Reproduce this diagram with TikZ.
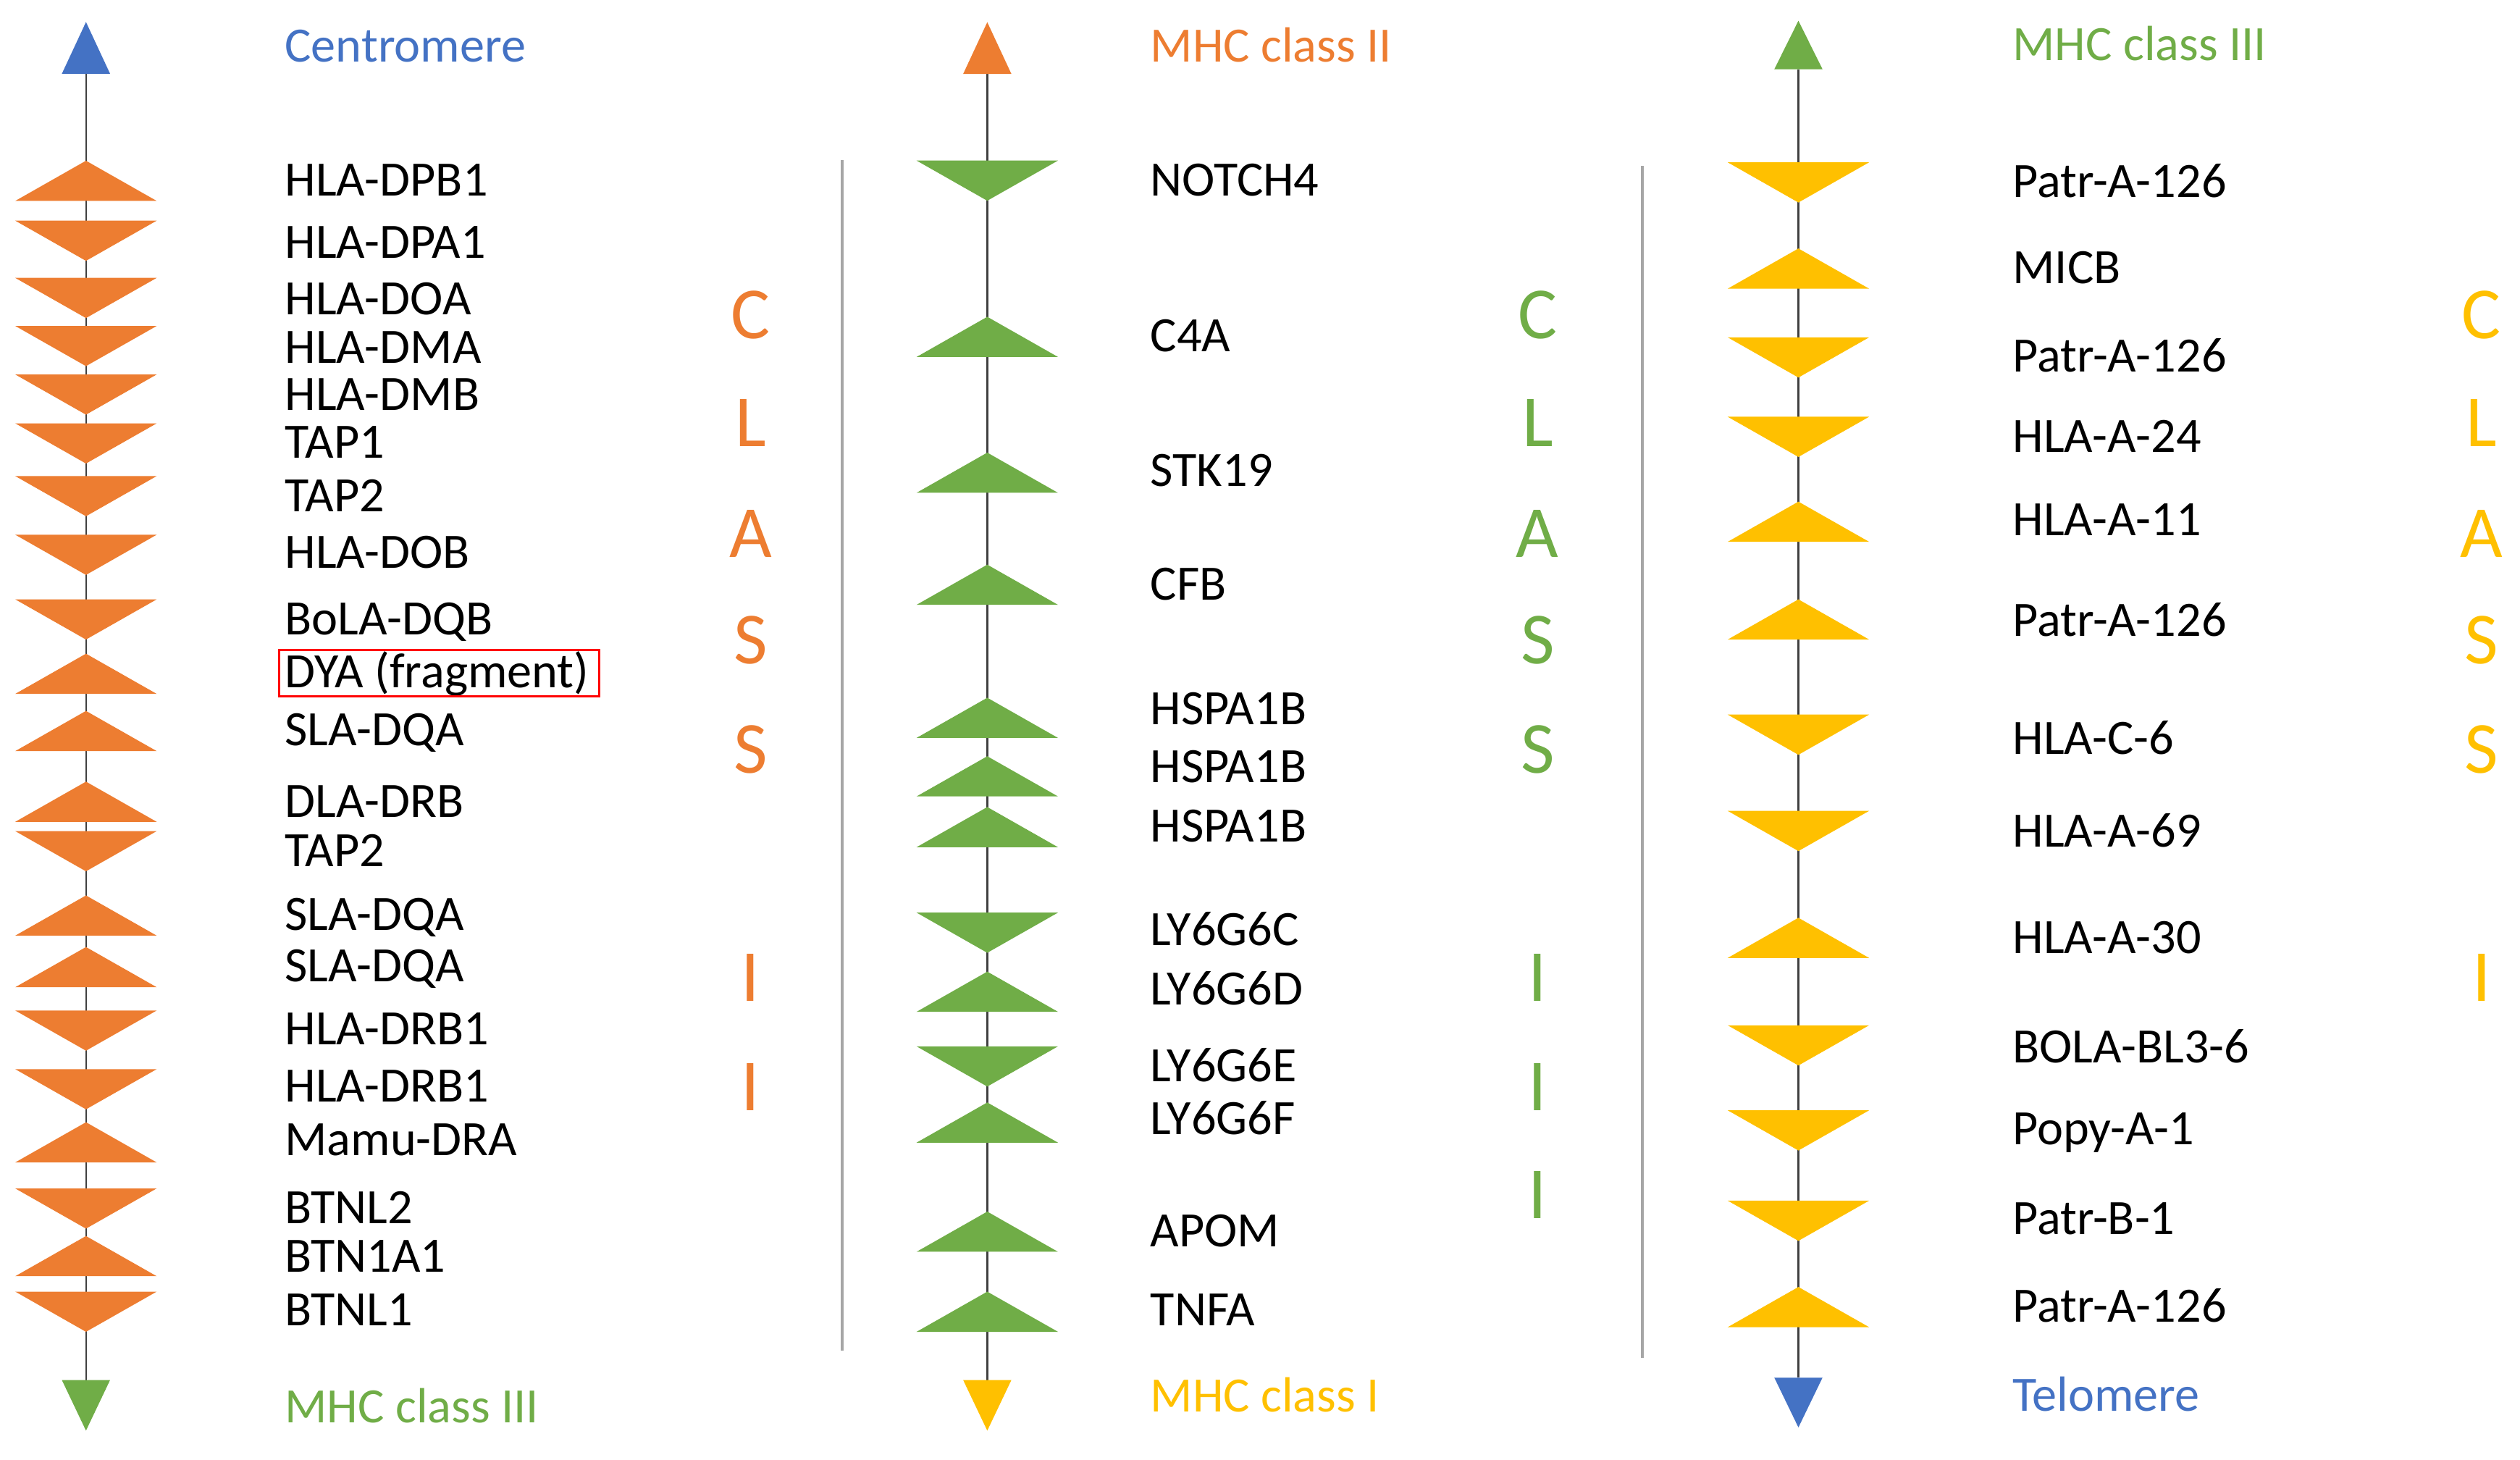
\documentclass[tikz,border=0pt]{standalone}
\usepackage{fontspec}
\setmainfont{Carlito}
\definecolor{corange}{HTML}{ED7D31}
\definecolor{cgreen}{HTML}{70AD47}
\definecolor{cyellow}{HTML}{FFC000}
\definecolor{cblue}{HTML}{4472C4}
\definecolor{caxis}{HTML}{404040}
\definecolor{csep}{HTML}{A6A6A6}
\begin{document}
\begin{tikzpicture}[x=0.02cm,y=-0.02cm,
  lbl/.style={anchor=base west, inner sep=0pt, font=\fontsize{17.5}{20}\selectfont},
  cls/.style={anchor=base, inner sep=0pt, font=\fontsize{26}{30}\selectfont},
  axisline/.style={draw=caxis, line width=0.6pt},
  sepline/.style={draw=csep, line width=1pt}]
\useasboundingbox (0,0) rectangle (1568,908.35);

% ---------- separators
\coordinate (s1a) at (524,99.7);  \coordinate (s1b) at (524,840.5);
\coordinate (s2a) at (1022,103.4); \coordinate (s2b) at (1022,844.9);
\draw[sepline] (s1a) -- (s1b);
\draw[sepline] (s2a) -- (s2b);

% ---------- column 1
\coordinate (a1t) at (53.5,45.9); \coordinate (a1b) at (53.5,858.6);
\draw[axisline] (a1t) -- (a1b);
\fill[cblue] (38.5,45.9) -- (53.5,13.7) -- (68.5,45.9) -- cycle;
\fill[cgreen] (38.5,858.6) -- (53.5,890.1) -- (68.5,858.6) -- cycle;
\node[lbl, text=cblue] (c1top) at (177,{28.7+9.75}) {Centromere};
\node[lbl, text=cgreen] (c1bot) at (177,{875.5+9.75}) {MHC class III};
\foreach \ty/\ly/\s/\t [count=\i] in {
112.5/112/1/HLA-DPB1,
149.8/150.8/-1/HLA-DPA1,
185.4/186.1/-1/HLA-DOA,
215.3/216/-1/HLA-DMA,
245.5/245.6/-1/HLA-DMB,
275.9/275.2/-1/TAP1,
308.7/308.8/-1/TAP2,
345.2/343.9/-1/HLA-DOB,
385.4/385/-1/BoLA-DQB,
419.2/418/1/DYA (fragment),
454.8/454/1/SLA-DQA,
498.8/498.8/1/DLA-DRB,
529.6/529.5/-1/TAP2,
569.6/568.9/1/SLA-DQA,
601.7/601/1/SLA-DQA,
641.2/640.4/-1/HLA-DRB1,
677.7/676/-1/HLA-DRB1,
710.7/709/1/Mamu-DRA,
751.9/751.4/-1/BTNL2,
781.5/781.5/1/BTN1A1,
816.1/815/-1/BTNL1}{
  \fill[corange, shift={(53.5,\ty)}] (-44,{12.5*(\s)}) -- (0,{-12.5*(\s)}) -- (44,{12.5*(\s)}) -- cycle;
  \node[lbl] (g1-\i) at (177,{\ly+9.75}) {\t};
}
\draw[red, line width=0.7pt] (173.8,404.5) rectangle (373,433.3);

% ---------- column 2
\coordinate (a2t) at (614.3,46); \coordinate (a2b) at (614.3,858.6);
\draw[axisline] (a2t) -- (a2b);
\fill[corange] (599.3,46) -- (614.3,13.8) -- (629.3,46) -- cycle;
\fill[cyellow] (599.3,858.6) -- (614.3,890.1) -- (629.3,858.6) -- cycle;
\node[lbl, text=corange] (c2top) at (715.5,{28.7+9.75}) {MHC class II};
\node[lbl, text=cyellow] (c2bot) at (715.5,{868.8+9.75}) {MHC class I};
\foreach \ty/\ly/\s/\t [count=\i] in {
112.4/112/-1/NOTCH4,
209.6/209/1/C4A,
294.1/293/1/STK19,
363.8/363.5/1/CFB,
446.6/441/1/HSPA1B,
483/477/1/HSPA1B,
514.6/514/1/HSPA1B,
580.3/578.5/-1/LY6G6C,
617/615.6/1/LY6G6D,
663.5/663.2/-1/LY6G6E,
698.4/695.9/1/LY6G6F,
766.3/766/1/APOM,
816.1/815/1/TNFA}{
  \fill[cgreen, shift={(614.3,\ty)}] (-44,{12.5*(\s)}) -- (0,{-12.5*(\s)}) -- (44,{12.5*(\s)}) -- cycle;
  \node[lbl] (g2-\i) at (715.5,{\ly+9.75}) {\t};
}

% ---------- column 3
\coordinate (a3t) at (1119,43.1); \coordinate (a3b) at (1119,857.1);
\draw[axisline] (a3t) -- (a3b);
\fill[cgreen] (1104,43.1) -- (1119,12.9) -- (1134,43.1) -- cycle;
\fill[cblue] (1104,857.1) -- (1119,888.1) -- (1134,857.1) -- cycle;
\node[lbl, text=cgreen] (c3top) at (1252,{27.9+9.75}) {MHC class III};
\node[lbl, text=cblue] (c3bot) at (1252,{868.2+9.75}) {Telomere};
\foreach \ty/\ly/\s/\t [count=\i] in {
113.5/113/-1/Patr-A-126,
167.1/166.7/1/MICB,
222.4/221.8/-1/Patr-A-126,
271.8/271.6/-1/HLA-A-24,
324.6/323.3/1/HLA-A-11,
385.4/386/1/Patr-A-126,
457.1/459.4/-1/HLA-C-6,
517/517.2/-1/HLA-A-69,
583.5/583.5/1/HLA-A-30,
650.4/651.5/-1/BOLA-BL3-6,
703.3/702.4/-1/Popy-A-1,
759.5/758.1/-1/Patr-B-1,
813.2/812.7/1/Patr-A-126}{
  \fill[cyellow, shift={(1119,\ty)}] (-44,{12.5*(\s)}) -- (0,{-12.5*(\s)}) -- (44,{12.5*(\s)}) -- cycle;
  \node[lbl] (g3-\i) at (1252,{\ly+9.75}) {\t};
}

% ---------- vertical CLASS letters
\foreach \y/\l [count=\i] in {196/C,263.5/L,332/A,398.5/S,466.5/S,608.5/I,676.4/I}{
  \node[cls, text=corange] (k1-\i) at (467,{\y+14.5}) {\l};
}
\foreach \y/\l [count=\i] in {196/C,263.5/L,332/A,398.5/S,466.5/S,608.5/I,676.4/I,743.5/I}{
  \node[cls, text=cgreen] (k2-\i) at (956.7,{\y+14.5}) {\l};
}
\foreach \y/\l [count=\i] in {196/C,263.5/L,332/A,398.5/S,466.5/S,608.5/I}{
  \node[cls, text=cyellow] (k3-\i) at (1544,{\y+14.5}) {\l};
}
\end{tikzpicture}
\end{document}
